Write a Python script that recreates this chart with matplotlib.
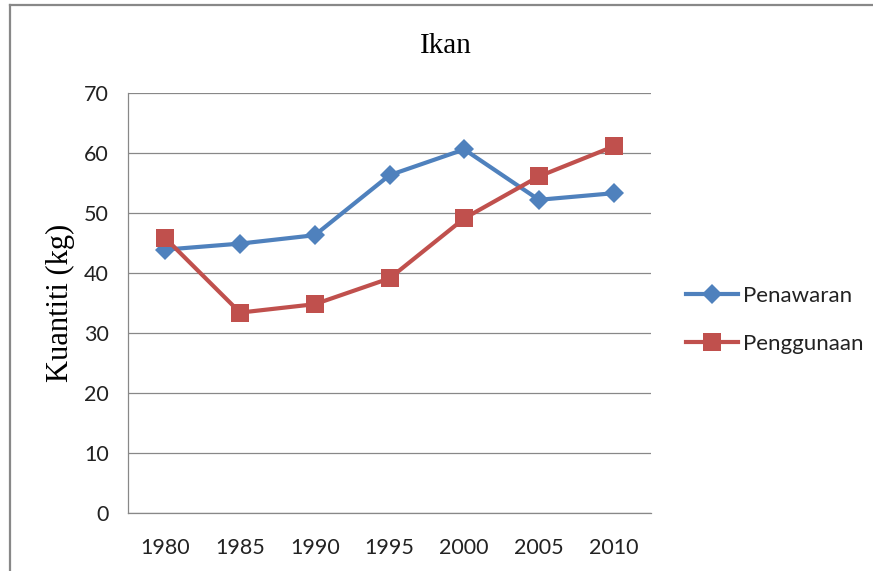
import numpy as np
import matplotlib.pyplot as plt
from matplotlib.lines import Line2D

years = ["1980", "1985", "1990", "1995", "2000", "2005", "2010"]
penawaran = [43.9, 44.9, 46.3, 56.3, 60.6, 52.2, 53.3]
penggunaan = [45.8, 33.4, 34.8, 39.1, 49.1, 56.1, 61.1]
y_ticks = [0, 10, 20, 30, 40, 50, 60, 70]

blue = "#4F81BD"
red = "#C0504D"
grid_c = "#888888"

fig = plt.figure(figsize=(8.73, 5.71), dpi=100)
ax = fig.add_axes([128 / 873, 1 - 513 / 571, (651 - 128) / 873, (513 - 93) / 571])

x = np.arange(len(years))
ax.plot(x, penawaran, color=blue, lw=3, marker="D", ms=10, mew=0,
        label="Penawaran", zorder=3)
ax.plot(x, penggunaan, color=red, lw=3, marker="s", ms=13.5, mew=0,
        label="Penggunaan", zorder=4)

ax.set_xlim(-0.5, len(years) - 0.5)
ax.set_ylim(0, 70)
ax.set_xticks(x)
ax.set_xticklabels(years)
ax.set_yticks(y_ticks)
ax.tick_params(length=0, labelsize=15.5, labelcolor="#222222")
ax.tick_params(axis="y", pad=14)
ax.tick_params(axis="x", pad=18)
for lbl in ax.get_xticklabels() + ax.get_yticklabels():
    lbl.set_family("Lato")

ax.grid(axis="y", color=grid_c, lw=0.9)
ax.set_axisbelow(True)
for s in ("top", "right"):
    ax.spines[s].set_visible(False)
for s in ("left", "bottom"):
    ax.spines[s].set_color(grid_c)
    ax.spines[s].set_linewidth(0.9)

fig.text(446 / 873, 1 - 46 / 571, "Ikan", family="Liberation Serif",
         fontsize=21, ha="center", va="center")
fig.text(60 / 873, 1 - 303 / 571, "Kuantiti (kg)", family="Liberation Serif",
         fontsize=22, rotation=90, ha="center", va="center")

leg = fig.legend(loc="center left", bbox_to_anchor=(686 / 873, 1 - 320 / 571),
                 frameon=False, prop={"family": "Lato", "size": 16},
                 handlelength=2.35, handletextpad=0.2, labelspacing=1.25,
                 borderpad=0, borderaxespad=0)
for t in leg.get_texts():
    t.set_color("#222222")

# outer chart frame (cut by image edges on right and bottom)
fig.add_artist(Line2D([10 / 873, 10 / 873], [0, 1 - 5 / 571],
                      transform=fig.transFigure, color=grid_c, lw=1.6))
fig.add_artist(Line2D([10 / 873, 1], [1 - 5 / 571, 1 - 5 / 571],
                      transform=fig.transFigure, color=grid_c, lw=1.6))

fig.savefig("out.png", dpi=100)
